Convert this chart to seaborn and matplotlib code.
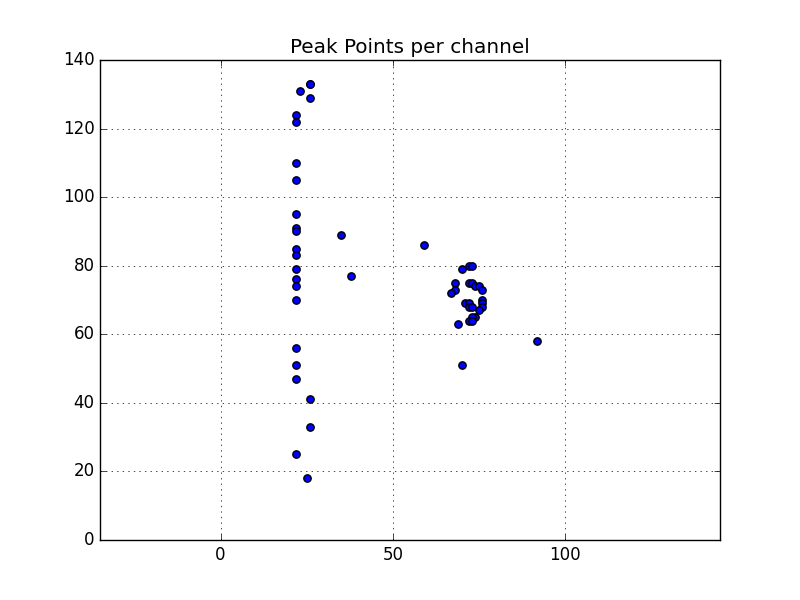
import numpy as np
import pandas as pd
import matplotlib
matplotlib.use('Agg')
import matplotlib.pyplot as plt
import seaborn as sns

# channel / peak values
channel = [26, 26, 23, 26, 22, 22, 22, 22, 22, 22, 22, 35, 22, 22, 22, 38, 22, 22, 22,
           22, 22, 22, 26, 26, 22, 25,
           59, 70, 72, 73, 68, 72, 73, 74, 75, 76, 68, 67, 76, 76, 76, 75,
           71, 72, 72, 73, 74, 73, 72, 73, 69, 92, 70]
peak = [133, 133, 131, 129, 124, 122, 110, 105, 95, 91, 90, 89, 85, 83, 79, 77, 76, 74, 70,
        56, 51, 47, 41, 33, 25, 18,
        86, 79, 80, 80, 75, 75, 75, 74, 74, 73, 73, 72, 70, 69, 68, 67,
        69, 69, 68, 68, 65, 65, 64, 64, 63, 58, 51]

df = pd.DataFrame({'channel': channel, 'peak': peak})

plt.style.use('classic')
fig = plt.figure(figsize=(8, 6), dpi=100, facecolor='white')
ax = fig.add_subplot(111)
sns.scatterplot(data=df, x='channel', y='peak', color='b', edgecolor='k',
                linewidth=1, s=28, ax=ax)
ax.set_title('Peak Points per channel')
ax.set_xlabel('')
ax.set_ylabel('')
ax.set_xlim(-35, 145)
ax.set_ylim(0, 140)
ax.set_xticks([0, 50, 100])
ax.set_yticks(range(0, 141, 20))
ax.grid(True)
fig.savefig('out.png', dpi=100, facecolor='white')
